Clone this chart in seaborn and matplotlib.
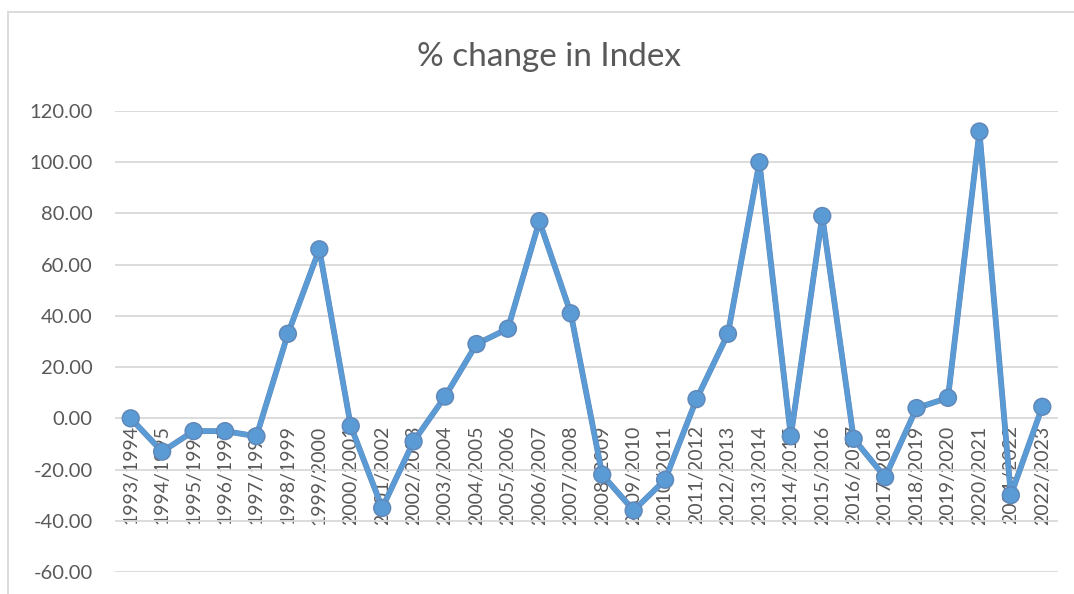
import matplotlib
matplotlib.use("Agg")
import matplotlib.pyplot as plt
import matplotlib.patheffects as pe
from matplotlib.patches import Rectangle
import seaborn as sns
import pandas as pd

years = ["1993/1994", "1994/1995", "1995/1996", "1996/1997", "1997/1998",
         "1998/1999", "1999/2000", "2000/2001", "2001/2002", "2002/2003",
         "2003/2004", "2004/2005", "2005/2006", "2006/2007", "2007/2008",
         "2008/2009", "2009/2010", "2010/2011", "2011/2012", "2012/2013",
         "2013/2014", "2014/2015", "2015/2016", "2016/2017", "2017/2018",
         "2018/2019", "2019/2020", "2020/2021", "2021/2022", "2022/2023"]
pct_change = [0.0, -13.0, -5.0, -5.0, -7.0,
              33.0, 66.0, -3.0, -35.0, -9.0,
              8.5, 29.0, 35.0, 77.0, 41.0,
              -22.0, -36.0, -24.0, 7.5, 33.0,
              100.0, -7.0, 79.0, -8.0, -23.0,
              4.0, 8.0, 112.0, -30.0, 4.5]
y_ticks = [-60, -40, -20, 0, 20, 40, 60, 80, 100, 120]
title = "% change in Index"

df = pd.DataFrame({"year": years, "pct": pct_change})

sns.set_theme(style="white")
plt.rcParams["font.family"] = ["Lato", "DejaVu Sans"]

fig = plt.figure(figsize=(10.74, 5.94), dpi=100)
ax = fig.add_axes([115 / 1074, 1 - 572 / 594, (1058 - 115) / 1074, (572 - 111) / 594])

blue = "#5b9bd5"
sns.pointplot(data=df, x="year", y="pct", ax=ax, color=blue, markers="o",
              linestyles="-", errorbar=None)
for line in ax.lines:
    line.set_linewidth(3.6)
    line.set_markersize(9)
    line.set_path_effects([pe.Stroke(linewidth=4.2, foreground="#6088b8"), pe.Normal()])
for coll in ax.collections:
    coll.set_sizes([80])
    coll.set_edgecolor(blue)

ax.set_xlim(-0.5, len(years) - 0.5)
ax.set_ylim(-60, 120)
ax.set_yticks(y_ticks)
ax.set_yticklabels([f"{v:.2f}" for v in y_ticks])
ax.yaxis.grid(True, color="#d9d9d9", linewidth=1.3)
ax.set_axisbelow(True)
ax.set_xlabel("")
ax.set_ylabel("")

for s in ["top", "right", "left"]:
    ax.spines[s].set_visible(False)
ax.spines["bottom"].set_position(("data", 0))
ax.spines["bottom"].set_visible(False)

ax.tick_params(axis="y", length=0, pad=16, labelsize=14.5, labelcolor="#595959")
ax.tick_params(axis="x", length=0, pad=5, labelsize=14, labelcolor="#595959",
               labelrotation=90)
for lab in ax.get_xticklabels():
    lab.set_verticalalignment("top")
    lab.set_horizontalalignment("center")

fig.text(549 / 1074, 1 - 57 / 594, title, ha="center", va="center",
         fontsize=24, color="#595959")

border = Rectangle((8 / 1074, -0.1), 1.2, 1 - 12 / 594 + 0.1, transform=fig.transFigure,
                   fill=False, edgecolor="#d9d9d9", linewidth=1.3, zorder=0)
fig.patches.append(border)

fig.savefig("out.png", dpi=100)
